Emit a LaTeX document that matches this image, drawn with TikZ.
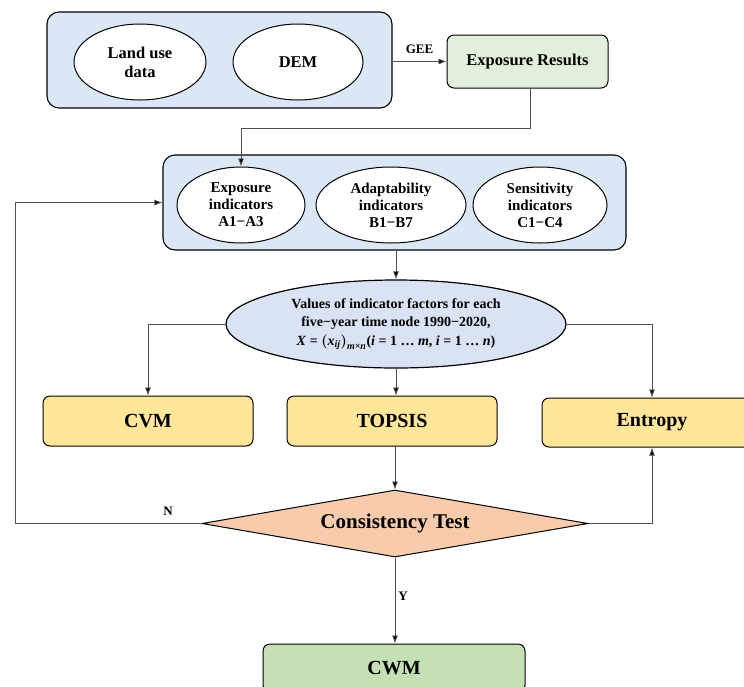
\documentclass[tikz,border=0pt]{standalone}
\usepackage{fontspec}
\setmainfont{Liberation Serif}
\usetikzlibrary{arrows.meta,shapes.geometric}
\definecolor{bluebg}{HTML}{DAE8F5}
\definecolor{ovalbg}{HTML}{DAE3F3}
\definecolor{greenlt}{HTML}{E2EFDA}
\definecolor{greenmd}{HTML}{C5E0B4}
\definecolor{yellowbg}{HTML}{FFE699}
\definecolor{peach}{HTML}{F8CBAD}
\definecolor{linegray}{HTML}{505050}
\newcommand\bivar[1]{\textbf{\textit{#1}}}
\newcommand\subvar[1]{\mbox{\fontsize{10}{10}\selectfont\bivar{#1}}}
\begin{document}
\begin{tikzpicture}[x=1pt,y=-1pt,
  container/.style={draw, rounded corners=12pt, fill=bluebg, line width=1.1pt},
  oval/.style={ellipse, draw, fill=white, line width=1pt, align=center, inner sep=0pt,
    font=\bfseries\fontsize{15}{17}\selectfont},
  bigoval/.style={ellipse, draw, fill=white, line width=1pt, align=center, inner sep=0pt,
    font=\bfseries\fontsize{16.5}{19}\selectfont},
  rbox/.style={draw, rounded corners=7pt, line width=1pt, align=center, inner sep=0pt},
  methodbox/.style={rbox, fill=yellowbg, font=\bfseries\fontsize{20}{24}\selectfont},
  conn/.style={draw=linegray, line width=0.8pt, -{Latex[length=8pt,width=6pt,fill=black]}},
  lbl/.style={font=\bfseries\fontsize{13}{15}\selectfont, inner sep=0pt}
]
\useasboundingbox (0,0) rectangle (744,686);

% top block
\node[container, minimum width=345pt, minimum height=96pt] (top) at (219.5,60) {};
\node[bigoval, minimum width=132pt, minimum height=76pt] (land) at (140,62) {Land use\\data};
\node[bigoval, minimum width=130pt, minimum height=76pt] (dem) at (298,62) {DEM};
\node[rbox, fill=greenlt, minimum width=161pt, minimum height=53pt,
  font=\bfseries\fontsize{16.5}{19}\selectfont] (expres) at (527.5,61.5) {Exposure Results};

% indicator block
\node[container, minimum width=463pt, minimum height=95pt] (box2) at (394.5,202.5) {};
\node[oval, minimum width=128pt, minimum height=76pt] (eexp) at (241,205) {Exposure\\indicators\\A1−A3};
\node[oval, minimum width=150pt, minimum height=76pt] (eada) at (391,205) {Adaptability\\indicators\\B1−B7};
\node[oval, minimum width=134pt, minimum height=76pt] (esen) at (540,205) {Sensitivity\\indicators\\C1−C4};

% values
\node[ellipse, draw, fill=ovalbg, line width=1.2pt, align=center, inner sep=0pt,
  minimum width=340pt, minimum height=88pt,
  font=\bfseries\fontsize{14}{18.5}\selectfont] (vals) at (396,324)
  {Values of indicator factors for each\\five−year time node 1990−2020,\\
   \bivar{X} = {\boldmath$\left(\mbox{\bivar{x}}_{\subvar{ij}}\right)_{\subvar{m×n}}$}(\bivar{i} = 1 … \bivar{m}, \bivar{i} = 1 … \bivar{n})};

% methods
\node[methodbox, minimum width=210pt, minimum height=50pt] (cvm) at (148,421) {CVM};
\node[methodbox, minimum width=210pt, minimum height=50pt] (topsis) at (392,421) {TOPSIS};
\node[methodbox, minimum width=220pt, minimum height=49pt] (entropy) at (652,422.5) {Entropy};

% test
\node[diamond, draw, fill=peach, line width=1pt, aspect=5.7, inner sep=0pt,
  minimum width=386pt, minimum height=67pt,
  font=\bfseries\fontsize{21}{25}\selectfont] (test) at (395,523.5) {Consistency Test};

\node[rbox, fill=greenmd, minimum width=262pt, minimum height=48pt,
  font=\bfseries\fontsize{20}{24}\selectfont] (cwm) at (394,668) {CWM};

% connectors
\draw[conn] (top.east |- expres.west) -- node[lbl, above=7pt]{GEE} (expres.west);
\coordinate (c1) at (530,128);
\draw[conn] (expres.south -| c1) -- (c1) -| (eexp.north);
\draw[conn] (box2.south -| vals.north) -- (vals.north);
\draw[conn] (vals.west) -| (cvm.north);
\draw[conn] (vals.south) -- (vals.south |- topsis.north);
\draw[conn] (vals.east) -| (entropy.north);
\draw[conn] (test.north |- topsis.south) -- (test.north);
\coordinate (nl) at (15,523.5);
\draw[conn] (test.west) -- (nl) |- (box2.west);
\draw[conn] (test.east) -| (entropy.south);
\draw[conn] (test.south) -- (test.south |- cwm.north);
\node[lbl] (nlab) at (168,511) {N};
\node[lbl] (ylab) at (403,596) {Y};
\end{tikzpicture}
\end{document}
